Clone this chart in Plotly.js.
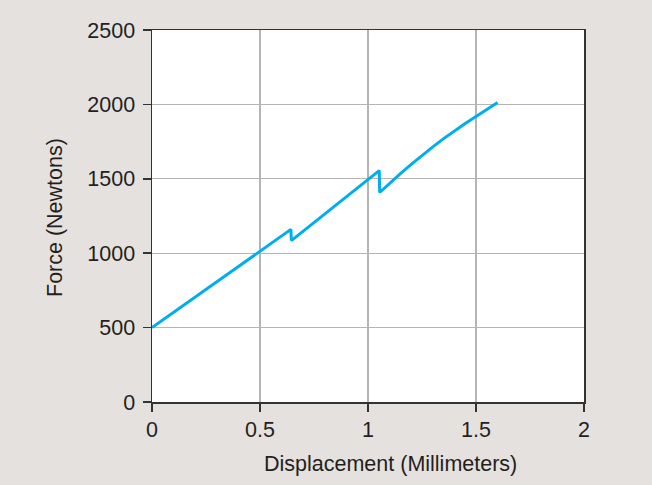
<!DOCTYPE html>
<html>
<head>
<meta charset="utf-8">
<script src="https://cdn.plot.ly/plotly-3.0.1.min.js"></script>
<style>html,body{margin:0;padding:0;background:#e5e1de;}#chart{width:652px;height:485px;}</style>
</head>
<body>
<div id="chart"></div>
<script>
// Displacement (mm) and force (N)
var displacement = [0, 0.25, 0.5, 0.643, 0.645, 0.8, 1.0, 1.052, 1.054, 1.1, 1.15, 1.2, 1.25, 1.3, 1.35, 1.4, 1.45, 1.5, 1.55, 1.6];
var force = [500, 755, 1010, 1160, 1085, 1265, 1500, 1555, 1408, 1470, 1535, 1597, 1657, 1715, 1770, 1822, 1872, 1919, 1966, 2012];
var xTicks = [0, 0.5, 1, 1.5, 2];
var xTickLabels = ['0', '0.5', '1', '1.5', '2'];
var yTicks = [0, 500, 1000, 1500, 2000, 2500];
var yTickLabels = ['0', '500', '1000', '1500', '2000', '2500'];

var font = {family: '"Liberation Sans", Arial, Helvetica, sans-serif', size: 21.5, color: '#231f20'};

var trace = {
  x: displacement, y: force, mode: 'lines', type: 'scatter',
  line: {color: '#00aeef', width: 3}, hoverinfo: 'none'
};

var axisCommon = {
  showgrid: true, gridcolor: '#b5b5b5', gridwidth: 1.2,
  showline: true, linecolor: '#333333', linewidth: 1.5, mirror: true,
  ticks: 'outside', ticklen: 8, tickwidth: 1.5, tickcolor: '#333333',
  zeroline: false, tickfont: font, tickmode: 'array', fixedrange: true
};

var layout = {
  width: 652, height: 485,
  margin: {l: 152, r: 68, t: 30, b: 83, pad: 0},
  paper_bgcolor: '#e5e1de', plot_bgcolor: '#ffffff',
  showlegend: false,
  font: font,
  xaxis: Object.assign({}, axisCommon, {range: [0, 2], tickvals: xTicks, ticktext: xTickLabels}),
  yaxis: Object.assign({}, axisCommon, {range: [0, 2500], tickvals: yTicks, ticktext: yTickLabels, ticklabelstandoff: 3}),
  annotations: [
    {text: 'Displacement (Millimeters)', xref: 'paper', yref: 'paper', x: (390 - 152) / 432, y: -62 / 372,
     xanchor: 'center', yanchor: 'middle', showarrow: false, font: font},
    {text: 'Force (Newtons)', xref: 'paper', yref: 'paper', x: (55 - 152) / 432, y: (402 - 218) / 372,
     xanchor: 'center', yanchor: 'middle', textangle: -90, showarrow: false, font: font}
  ]
};

Plotly.newPlot('chart', [trace], layout, {displayModeBar: false, staticPlot: true});
</script>
</body>
</html>
